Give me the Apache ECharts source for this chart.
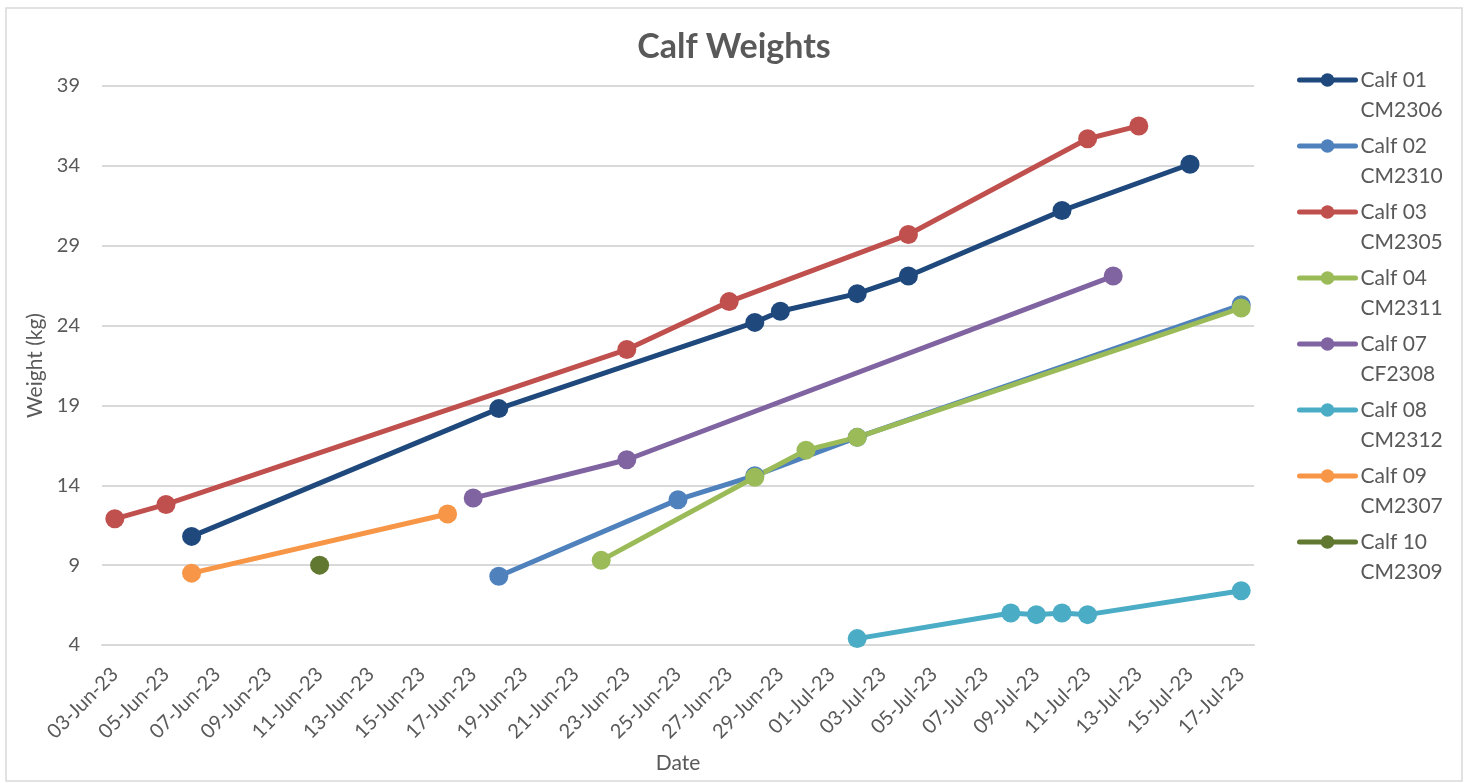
<!DOCTYPE html>
<html>
<head>
<meta charset="utf-8">
<script src="https://cdn.jsdelivr.net/npm/echarts@6/dist/echarts.min.js"></script>
<style>
html,body{margin:0;padding:0;background:#fff;}
#chart{width:1466px;height:783px;}
</style>
</head>
<body>
<div id="chart"></div>
<script>
// Categories (one per day, x-axis date axis)
var dateCategories = [
  '03-Jun-23','04-Jun-23','05-Jun-23','06-Jun-23','07-Jun-23','08-Jun-23','09-Jun-23','10-Jun-23',
  '11-Jun-23','12-Jun-23','13-Jun-23','14-Jun-23','15-Jun-23','16-Jun-23','17-Jun-23','18-Jun-23',
  '19-Jun-23','20-Jun-23','21-Jun-23','22-Jun-23','23-Jun-23','24-Jun-23','25-Jun-23','26-Jun-23',
  '27-Jun-23','28-Jun-23','29-Jun-23','30-Jun-23','01-Jul-23','02-Jul-23','03-Jul-23','04-Jul-23',
  '05-Jul-23','06-Jul-23','07-Jul-23','08-Jul-23','09-Jul-23','10-Jul-23','11-Jul-23','12-Jul-23',
  '13-Jul-23','14-Jul-23','15-Jul-23','16-Jul-23','17-Jul-23'
];

var calf01Dates   = ['06-Jun-23','18-Jun-23','28-Jun-23','29-Jun-23','02-Jul-23','04-Jul-23','10-Jul-23','15-Jul-23'];
var calf01Weights = [10.8, 18.8, 24.2, 24.9, 26.0, 27.1, 31.2, 34.1];

var calf02Dates   = ['18-Jun-23','25-Jun-23','28-Jun-23','02-Jul-23','17-Jul-23'];
var calf02Weights = [8.3, 13.1, 14.6, 17.0, 25.3];

var calf03Dates   = ['03-Jun-23','05-Jun-23','23-Jun-23','27-Jun-23','04-Jul-23','11-Jul-23','13-Jul-23'];
var calf03Weights = [11.9, 12.8, 22.5, 25.5, 29.7, 35.7, 36.5];

var calf04Dates   = ['22-Jun-23','28-Jun-23','30-Jun-23','02-Jul-23','17-Jul-23'];
var calf04Weights = [9.3, 14.5, 16.2, 17.0, 25.1];

var calf07Dates   = ['17-Jun-23','23-Jun-23','12-Jul-23'];
var calf07Weights = [13.2, 15.6, 27.1];

var calf08Dates   = ['02-Jul-23','08-Jul-23','09-Jul-23','10-Jul-23','11-Jul-23','17-Jul-23'];
var calf08Weights = [4.4, 6.0, 5.9, 6.0, 5.9, 7.4];

var calf09Dates   = ['06-Jun-23','16-Jun-23'];
var calf09Weights = [8.5, 12.2];

var calf10Dates   = ['11-Jun-23'];
var calf10Weights = [9.0];

var seriesNames  = ['Calf 01\nCM2306','Calf 02\nCM2310','Calf 03\nCM2305','Calf 04\nCM2311','Calf 07\nCF2308','Calf 08\nCM2312','Calf 09\nCM2307','Calf 10\nCM2309'];
var seriesColors = ['#1F497D','#4F81BD','#C0504D','#9BBB59','#8064A2','#4BACC6','#F79646','#60782F'];
var seriesDates  = [calf01Dates, calf02Dates, calf03Dates, calf04Dates, calf07Dates, calf08Dates, calf09Dates, calf10Dates];
var seriesWeights= [calf01Weights, calf02Weights, calf03Weights, calf04Weights, calf07Weights, calf08Weights, calf09Weights, calf10Weights];

var yTicks = {min: 4, max: 39, interval: 5};

var FONT = 'Lato, "Open Sans", sans-serif';
var TXT = '#595959';

var series = seriesNames.map(function (name, i) {
  var d = seriesDates[i].map(function (dt, k) { return [dt, seriesWeights[i][k]]; });
  return {
    name: name,
    type: 'line',
    data: d,
    symbol: 'circle',
    symbolSize: 19,
    showAllSymbol: true,
    lineStyle: {width: 5, color: seriesColors[i], cap: 'round', join: 'round'},
    itemStyle: {color: seriesColors[i]},
    emphasis: {disabled: true},
    z: 2
  };
});

var chart = echarts.init(document.getElementById('chart'), null, {renderer: 'canvas'});
chart.setOption({
  animation: false,
  backgroundColor: '#ffffff',
  color: seriesColors,
  title: {
    text: 'Calf Weights',
    left: 729, top: 25,
    textAlign: 'center',
    textStyle: {fontFamily: FONT, fontSize: 34, fontWeight: 'bold', color: TXT}
  },
  grid: {left: 102, right: 212, top: 86, bottom: 138, containLabel: false},
  legend: {
    orient: 'vertical',
    left: 1297, top: 35,
    padding: 0,
    itemWidth: 56, itemHeight: 17,
    itemGap: -24,
    data: seriesNames,
    lineStyle: {width: 5},
    formatter: function (n) { return '\n' + n; },
    textStyle: {fontFamily: FONT, fontSize: 21, color: TXT, lineHeight: 30}
  },
  xAxis: {
    type: 'category',
    data: dateCategories,
    boundaryGap: true,
    name: 'Date',
    nameLocation: 'middle',
    nameGap: 108,
    nameTextStyle: {fontFamily: FONT, fontSize: 21, color: TXT},
    axisLine: {show: true, lineStyle: {color: '#d9d9d9', width: 2}},
    axisTick: {show: false},
    axisLabel: {interval: 1, rotate: 45, fontFamily: FONT, fontSize: 20, color: TXT, margin: 26},
    splitLine: {show: false}
  },
  yAxis: {
    type: 'value',
    min: yTicks.min, max: yTicks.max, interval: yTicks.interval,
    name: 'Weight (kg)',
    nameLocation: 'middle',
    nameGap: 52,
    nameTextStyle: {fontFamily: FONT, fontSize: 21, color: TXT},
    axisLine: {show: false},
    axisTick: {show: false},
    axisLabel: {fontFamily: FONT, fontSize: 20, color: TXT, margin: 22},
    splitLine: {show: true, lineStyle: {color: '#d9d9d9', width: 2}}
  },
  graphic: [{
    type: 'rect',
    silent: true,
    shape: {x: 6, y: 8, width: 1456, height: 773},
    style: {fill: 'none', stroke: '#d9d9d9', lineWidth: 1.5},
    z: -1
  }],
  series: series
});
</script>
</body>
</html>
